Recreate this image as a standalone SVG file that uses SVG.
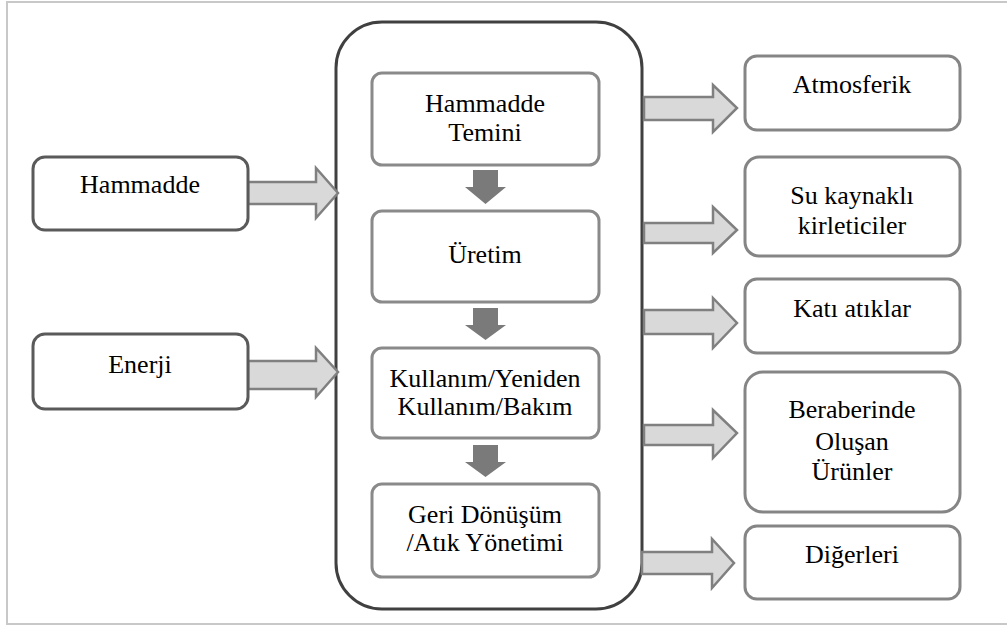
<svg xmlns="http://www.w3.org/2000/svg" width="1007" height="628" viewBox="0 0 1007 628">
<style>
.frame{fill:#fff;stroke:#c8c8c8;stroke-width:2}
.outer{fill:#fff;stroke:#404040;stroke-width:3}
.lbox{fill:#fff;stroke:#5a5a5a;stroke-width:3}
.ibox{fill:#fff;stroke:#8a8a8a;stroke-width:3}
.rbox{fill:#fff;stroke:#858585;stroke-width:3}
.harrow{fill:#d9d9d9;stroke:#808080;stroke-width:2.5;stroke-linejoin:miter}
.darrow{fill:#7a7a7a;stroke:none}
.t{font-family:'Liberation Serif','DejaVu Serif',serif;font-size:26px;fill:#000;text-anchor:middle}
</style>
<rect x="0" y="0" width="1007" height="628" fill="#fff"/>
<rect class="frame" x="7" y="2" width="1010" height="622"/>
<g id="container"><rect class="outer" x="336" y="22" width="306" height="587" rx="46" ry="46"/></g>
<g id="connectors">
<path class="harrow" d="M248,182 H316 V168 L338,193 L316,218 V204 H248 Z"/>
<path class="harrow" d="M248,361 H316 V348 L338,372 L316,397 V389 H248 Z"/>
<path class="darrow" d="M473,170 H498 V187 H506 L485.5,204 L465,187 H473 Z"/>
<path class="darrow" d="M473,308 H498 V325 H506 L485.5,340 L465,325 H473 Z"/>
<path class="darrow" d="M473,445 H498 V462 H506 L485.5,477 L465,462 H473 Z"/>
<path class="harrow" d="M644,97 H713 V85 L737,108 L713,132 V120 H644 Z"/>
<path class="harrow" d="M644,223 H713 V207 L737,230 L713,253 V243 H644 Z"/>
<path class="harrow" d="M644,310 H713 V298 L737,323 L713,348 V334 H644 Z"/>
<path class="harrow" d="M644,425 H713 V410 L737,433 L713,458 V445 H644 Z"/>
<path class="harrow" d="M642,552 H712 V539 L734,563 L712,588 V574 H642 Z"/>
</g>
<g class="t" font-family="Liberation Serif, DejaVu Serif, serif">
<g id="hammadde"><rect class="lbox" x="33" y="157" width="215" height="73" rx="12"/><text x="140" y="193">Hammadde</text></g>
<g id="enerji"><rect class="lbox" x="33" y="334" width="215" height="75" rx="12"/><text x="140" y="373">Enerji</text></g>
<g id="temin"><rect class="ibox" x="372" y="73" width="227" height="92" rx="10"/><text x="485" y="112">Hammadde</text><text x="485" y="141">Temini</text></g>
<g id="uretim"><rect class="ibox" x="372" y="211" width="227" height="91" rx="10"/><text x="485" y="263">Üretim</text></g>
<g id="kullanim"><rect class="ibox" x="372" y="348" width="227" height="90" rx="10"/><text x="485" y="387">Kullanım/Yeniden</text><text x="485" y="415">Kullanım/Bakım</text></g>
<g id="geri"><rect class="ibox" x="372" y="484" width="227" height="93" rx="10"/><text x="485" y="523">Geri Dönüşüm</text><text x="485" y="551">/Atık Yönetimi</text></g>
<g id="atmosferik"><rect class="rbox" x="745" y="56" width="215" height="74" rx="12"/><text x="852" y="93">Atmosferik</text></g>
<g id="su"><rect class="rbox" x="745" y="157" width="215" height="99" rx="14"/><text x="852" y="204">Su kaynaklı</text><text x="852" y="234">kirleticiler</text></g>
<g id="kati"><rect class="rbox" x="745" y="279" width="215" height="74" rx="12"/><text x="852" y="317">Katı atıklar</text></g>
<g id="beraberinde"><rect class="rbox" x="745" y="372" width="215" height="140" rx="18"/><text x="852" y="418">Beraberinde</text><text x="852" y="450">Oluşan</text><text x="852" y="480">Ürünler</text></g>
<g id="digerleri"><rect class="rbox" x="745" y="526" width="215" height="73" rx="12"/><text x="852" y="563">Diğerleri</text></g>
</g>
</svg>
